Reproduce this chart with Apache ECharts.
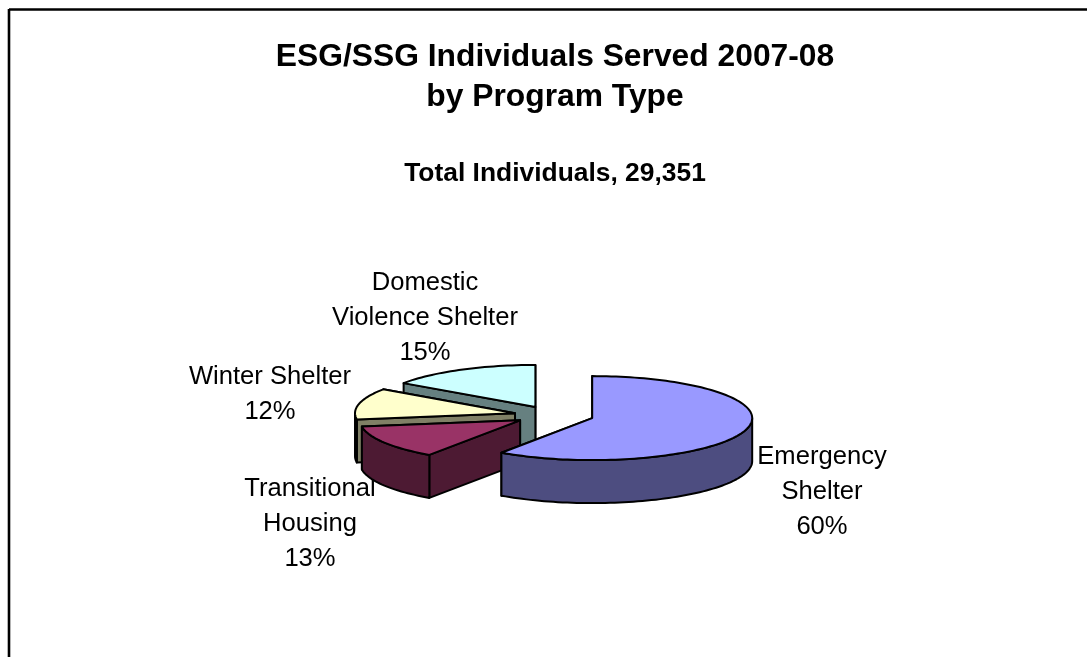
<!DOCTYPE html>
<html>
<head>
<meta charset="utf-8">
<style>html,body{margin:0;padding:0;background:#fff}#c{width:1087px;height:657px}</style>
<script src="https://cdn.jsdelivr.net/npm/echarts@6/dist/echarts.min.js"></script>
</head>
<body>
<div id="c"></div>
<script>
const categories = ['Emergency\nShelter', 'Transitional\nHousing', 'Winter Shelter', 'Domestic\nViolence Shelter'];
const values = [59.6, 13.0, 12.0, 15.4];
const titleText = 'ESG/SSG Individuals Served 2007-08\nby Program Type';
const subtitleText = 'Total Individuals, 29,351';

const topColors = ['#9999FF', '#993366', '#FFFFCC', '#CCFFFF'];
const sideColors = ['#4D4D80', '#4D1A33', '#808066', '#668080'];
const stackOrder = [4, 3, 2, 1];
const labelAnchors = [[822, 439.5], [310, 471], [270, 359], [425, 265]];

const CX = 554, CY = 415.3, RX = 160, RY = 42, DEPTH = 43, EXPLODE_X = 0.25, EXPLODE_Y = 0.225;
const total = values.reduce((a, b) => a + b, 0);

function renderSlice(params, api) {
  const i = params.dataIndex;
  let before = 0;
  for (let k = 0; k < i; k++) before += values[k];
  const a0 = before / total * Math.PI * 2;
  const a1 = (before + values[i]) / total * Math.PI * 2;
  const mid = (a0 + a1) / 2;
  const ox = CX + Math.sin(mid) * RX * EXPLODE_X;
  const oy = CY - Math.cos(mid) * RY * EXPLODE_Y;
  const rim = a => [ox + Math.sin(a) * RX, oy - Math.cos(a) * RY];
  const down = p => [p[0], p[1] + DEPTH];
  const arc = (s, e) => {
    const n = Math.max(2, Math.ceil((e - s) / 0.03));
    const pts = [];
    for (let k = 0; k <= n; k++) pts.push(rim(s + (e - s) * k / n));
    return pts;
  };
  const apex = [ox, oy];
  const stroke = { stroke: '#000', lineWidth: 2, lineJoin: 'round' };
  const poly = (points, fill) => ({
    type: 'polygon', shape: { points }, style: Object.assign({ fill }, stroke)
  });
  const children = [];
  children.push(poly([apex, rim(a1), down(rim(a1)), down(apex)], sideColors[i]));
  children.push(poly([apex, rim(a0), down(rim(a0)), down(apex)], sideColors[i]));
  const fs = Math.max(a0, Math.PI / 2), fe = Math.min(a1, Math.PI * 1.5);
  if (fe > fs) {
    const edge = arc(fs, fe);
    children.push(poly(edge.concat(edge.map(down).reverse()), sideColors[i]));
  }
  children.push(poly([apex].concat(arc(a0, a1)), topColors[i]));
  return { type: 'group', children: children.map((c, k) => Object.assign(c, { z2: stackOrder[i] * 10 + k })) };
}

function renderLabel(params, api) {
  const i = params.dataIndex;
  return {
    type: 'text',
    style: {
      x: labelAnchors[i][0], y: labelAnchors[i][1],
      text: categories[i] + '\n' + Math.round(values[i] / total * 100) + '%',
      fill: '#000', align: 'center', verticalAlign: 'top',
      font: '25.6px "Liberation Sans", Arial, sans-serif', lineHeight: 35
    }
  };
}

const chart = echarts.init(document.getElementById('c'), null, { renderer: 'canvas' });
chart.setOption({
  backgroundColor: '#fff',
  animation: false,
  title: [
    { text: titleText, left: 550, top: 32, textAlign: 'center',
      textStyle: { fontFamily: 'Liberation Sans', fontWeight: 'bold', fontSize: 31.8, lineHeight: 40, color: '#000' } },
    { text: subtitleText, left: 550, top: 154, textAlign: 'center',
      textStyle: { fontFamily: 'Liberation Sans', fontWeight: 'bold', fontSize: 26.4, lineHeight: 30, color: '#000' } }
  ],
  graphic: [
    { type: 'line', silent: true, shape: { x1: 9, y1: 9.5, x2: 1087, y2: 9.5 }, style: { stroke: '#000', lineWidth: 2.6 } },
    { type: 'line', silent: true, shape: { x1: 9, y1: 9, x2: 9, y2: 657 }, style: { stroke: '#000', lineWidth: 2.6 } }
  ],
  series: [
    { type: 'custom', coordinateSystem: 'none', silent: true, z: 2, data: values, renderItem: renderLabel },
    { type: 'custom', coordinateSystem: 'none', silent: true, z: 3, data: values, renderItem: renderSlice }
  ]
});
</script>
</body>
</html>
